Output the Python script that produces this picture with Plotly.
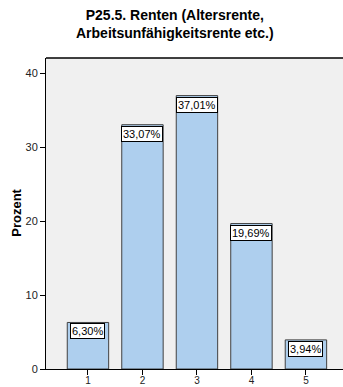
import plotly.graph_objects as go

categories = [1, 2, 3, 4, 5]
values = [6.30, 33.07, 37.01, 19.69, 3.94]
labels = ["6,30%", "33,07%", "37,01%", "19,69%", "3,94%"]
y_ticks = [0, 10, 20, 30, 40]

FONT = "Liberation Sans, Arial"

fig = go.Figure()
fig.add_trace(go.Bar(
    x=categories, y=values, width=0.76,
    marker=dict(color="#AECFEE", line=dict(color="#404040", width=1)),
    hoverinfo="skip",
))

for c, v, t in zip(categories, values, labels):
    fig.add_annotation(
        x=c, y=v, text=t, showarrow=False, yanchor="top", yshift=-1,
        font=dict(family=FONT, size=11, color="#000000"),
        bgcolor="#FFFFFF", bordercolor="#000000", borderwidth=1, borderpad=1,
    )

# title
fig.add_annotation(
    xref="paper", yref="paper", x=0.434, y=1.108, xanchor="center", yanchor="middle",
    text="<b>P25.5. Renten (Altersrente,<br>Arbeitsunfähigkeitsrente etc.)</b>",
    showarrow=False, font=dict(family=FONT, size=14, color="#000000"),
)
# y axis title
fig.add_annotation(
    xref="paper", yref="paper", x=-0.098, y=0.502, xanchor="center", yanchor="middle",
    text="<b>Prozent</b>", textangle=-90, showarrow=False,
    font=dict(family=FONT, size=13, color="#000000"),
)

fig.add_shape(type="line", xref="paper", yref="paper", x0=0, x1=1, y0=1, y1=1,
              line=dict(color="#000000", width=1.5))

fig.update_layout(
    width=343, height=387,
    margin=dict(l=46, r=0, t=58, b=18),
    paper_bgcolor="#FFFFFF", plot_bgcolor="#F0F0F0",
    showlegend=False,
    font=dict(family=FONT, size=11, color="#222222"),
    xaxis=dict(
        range=[0.23, 5.68], tickmode="array", tickvals=categories,
        ticktext=[str(c) for c in categories],
        tickfont=dict(color="#222222", size=10), ticklabelstandoff=-3,
        showline=True, linecolor="#000000", linewidth=1,
        ticks="outside", ticklen=5, tickcolor="#000000",
        showgrid=False, zeroline=False, automargin=False,
    ),
    yaxis=dict(
        range=[0, 42.1], tickmode="array", tickvals=y_ticks,
        tickfont=dict(color="#222222", size=11),
        showline=True, linecolor="#000000", linewidth=1,
        ticks="outside", ticklen=5, tickcolor="#000000",
        showgrid=False, zeroline=False, automargin=False,
    ),
)

fig.write_html("out.html", config={"displayModeBar": False},
               post_script="document.body.style.margin='0px';")
